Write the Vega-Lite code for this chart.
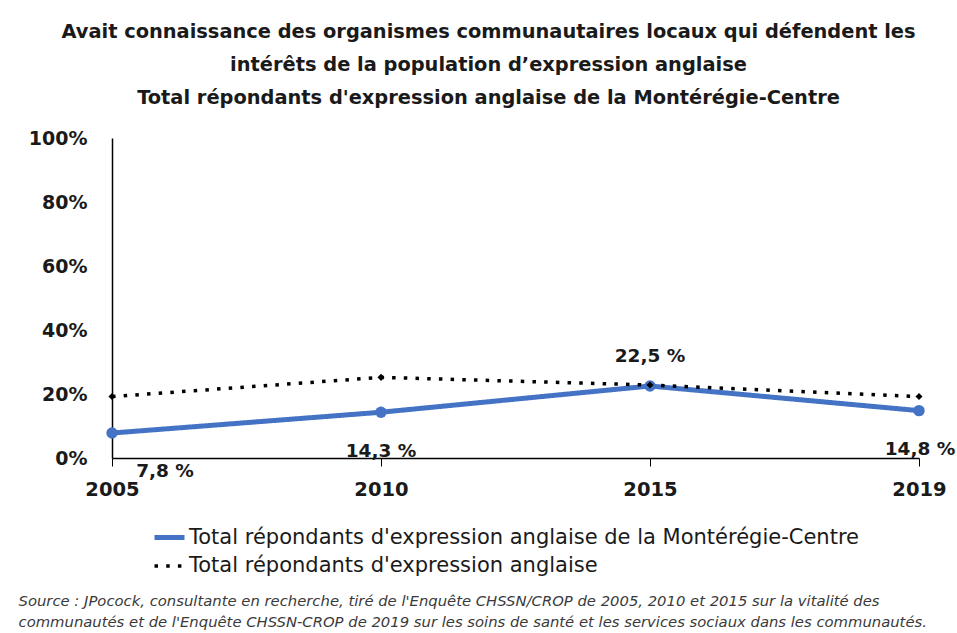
{
  "$schema": "https://vega.github.io/schema/vega-lite/v6.json",
  "autosize": {"type": "none"},
  "padding": {"left": 112, "top": 138, "right": 38, "bottom": 175},
  "width": 807,
  "height": 320,
  "background": "white",
  "config": {"view": {"stroke": null}},
  "title": {
    "text": [
      "Avait connaissance  des organismes communautaires locaux qui défendent les",
      "intérêts de la population  d’expression anglaise",
      "Total répondants d'expression anglaise de la Montérégie-Centre"
    ],
    "font": "DejaVu Sans",
    "fontSize": 19.4,
    "fontWeight": "bold",
    "color": "#1a1a1a",
    "lineHeight": 33,
    "anchor": "middle",
    "dx": -27,
    "offset": 21
  },
  "data": {
    "values": [
      {"year": "2005", "series": "Total répondants d'expression anglaise de la Montérégie-Centre", "value": 0.078, "label": "7,8 %"},
      {"year": "2010", "series": "Total répondants d'expression anglaise de la Montérégie-Centre", "value": 0.143, "label": "14,3 %"},
      {"year": "2015", "series": "Total répondants d'expression anglaise de la Montérégie-Centre", "value": 0.225, "label": "22,5 %"},
      {"year": "2019", "series": "Total répondants d'expression anglaise de la Montérégie-Centre", "value": 0.148, "label": "14,8 %"},
      {"year": "2005", "series": "Total répondants d'expression anglaise", "value": 0.192},
      {"year": "2010", "series": "Total répondants d'expression anglaise", "value": 0.252},
      {"year": "2015", "series": "Total répondants d'expression anglaise", "value": 0.228},
      {"year": "2019", "series": "Total répondants d'expression anglaise", "value": 0.192}
    ]
  },
  "encoding": {
    "x": {
      "field": "year",
      "type": "ordinal",
      "scale": {"type": "point", "padding": 0},
      "axis": {
        "labelAngle": 0,
        "labelFont": "DejaVu Sans",
        "labelFontSize": 19.5,
        "labelFontWeight": "bold",
        "labelColor": "#1a1a1a",
        "labelPadding": 14,
        "tickSize": 8,
        "tickColor": "#000000",
        "domainColor": "#000000",
        "domainWidth": 1.5,
        "grid": false,
        "title": [
          "Source : JPocock, consultante en recherche, tiré de l'Enquête CHSSN/CROP de 2005, 2010 et 2015 sur la vitalité des",
          "communautés et de l'Enquête CHSSN-CROP de 2019 sur les soins de santé et les services sociaux dans les communautés."
        ],
        "titleFont": "DejaVu Sans",
        "titleFontSize": 14.8,
        "titleFontStyle": "italic",
        "titleFontWeight": "normal",
        "titleColor": "#3a3a3a",
        "titleLineHeight": 21,
        "titleAlign": "left",
        "titleBaseline": "alphabetic",
        "titleAngle": 0,
        "titleX": -94,
        "titleY": 147
      }
    },
    "y": {
      "field": "value",
      "type": "quantitative",
      "scale": {"domain": [0, 1], "nice": false},
      "axis": {
        "values": [0, 0.2, 0.4, 0.6, 0.8, 1],
        "format": ".0%",
        "ticks": false,
        "grid": false,
        "labelFont": "DejaVu Sans",
        "labelFontSize": 19,
        "labelFontWeight": "bold",
        "labelColor": "#1a1a1a",
        "labelPadding": 25,
        "domainColor": "#000000",
        "domainWidth": 1.5,
        "title": null
      }
    }
  },
  "layer": [
    {
      "mark": {"type": "line", "strokeCap": "butt"},
      "encoding": {
        "color": {
          "field": "series",
          "type": "nominal",
          "sort": null,
          "scale": {
            "domain": ["Total répondants d'expression anglaise de la Montérégie-Centre", "Total répondants d'expression anglaise"],
            "range": ["#4472C4", "#000000"]
          },
          "legend": {
            "orient": "none",
            "legendX": 40,
            "legendY": 382,
            "title": null,
            "symbolType": "stroke",
            "symbolSize": 900,
            "symbolStrokeWidth": 4,
            "labelFont": "DejaVu Sans",
            "labelFontSize": 21,
            "labelColor": "#1a1a1a",
            "labelLimit": 900,
            "labelOffset": 2,
            "rowPadding": 1
          }
        },
        "strokeDash": {
          "field": "series",
          "type": "nominal",
          "sort": null,
          "scale": {
            "domain": ["Total répondants d'expression anglaise de la Montérégie-Centre", "Total répondants d'expression anglaise"],
            "range": [[1, 0], [3.5, 8.2]]
          },
          "legend": {
            "orient": "none",
            "legendX": 40,
            "legendY": 382,
            "title": null,
            "symbolType": "stroke",
            "symbolSize": 900,
            "symbolStrokeWidth": 4,
            "labelFont": "DejaVu Sans",
            "labelFontSize": 21,
            "labelColor": "#1a1a1a",
            "labelLimit": 900,
            "labelOffset": 2,
            "rowPadding": 1
          }
        },
        "strokeWidth": {
          "field": "series",
          "type": "nominal",
          "sort": null,
          "scale": {
            "domain": ["Total répondants d'expression anglaise de la Montérégie-Centre", "Total répondants d'expression anglaise"],
            "range": [5, 3.5]
          },
          "legend": null
        }
      }
    },
    {
      "transform": [{"filter": "datum.series === 'Total répondants d\\'expression anglaise de la Montérégie-Centre'"}],
      "mark": {"type": "point", "filled": true, "shape": "circle", "size": 130, "color": "#4472C4", "opacity": 1}
    },
    {
      "transform": [{"filter": "datum.series === 'Total répondants d\\'expression anglaise'"}],
      "mark": {"type": "point", "filled": true, "shape": "diamond", "size": 50, "color": "#000000", "opacity": 1}
    },
    {
      "transform": [{"filter": "datum.label === '7,8 %'"}],
      "mark": {"type": "text", "font": "DejaVu Sans", "fontSize": 18.5, "fontWeight": "bold", "color": "#1a1a1a", "dx": 53, "dy": 38},
      "encoding": {"text": {"field": "label"}}
    },
    {
      "transform": [{"filter": "datum.label === '14,3 %'"}],
      "mark": {"type": "text", "font": "DejaVu Sans", "fontSize": 18.5, "fontWeight": "bold", "color": "#1a1a1a", "dx": 0, "dy": 39},
      "encoding": {"text": {"field": "label"}}
    },
    {
      "transform": [{"filter": "datum.label === '22,5 %'"}],
      "mark": {"type": "text", "font": "DejaVu Sans", "fontSize": 18.5, "fontWeight": "bold", "color": "#1a1a1a", "dx": 0, "dy": -30},
      "encoding": {"text": {"field": "label"}}
    },
    {
      "transform": [{"filter": "datum.label === '14,8 %'"}],
      "mark": {"type": "text", "font": "DejaVu Sans", "fontSize": 18.5, "fontWeight": "bold", "color": "#1a1a1a", "dx": 1, "dy": 38},
      "encoding": {"text": {"field": "label"}}
    }
  ]
}
